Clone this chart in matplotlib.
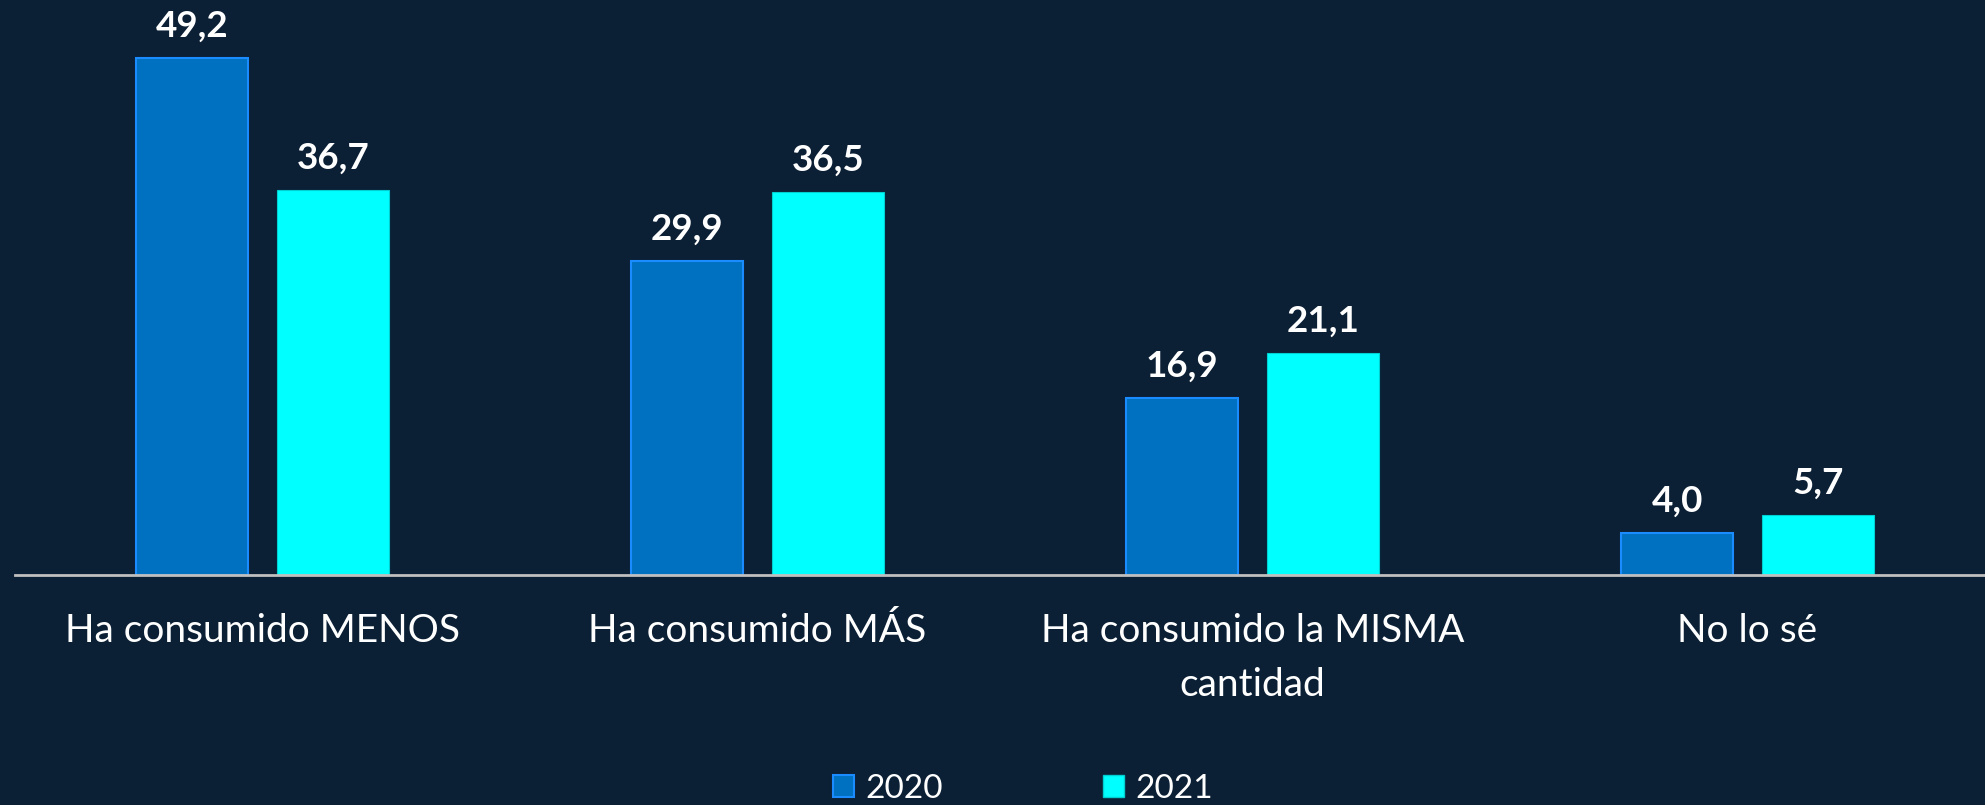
import matplotlib
matplotlib.use("Agg")
import matplotlib.pyplot as plt
import numpy as np
from matplotlib.patches import Patch

categories = ["Ha consumido MENOS", "Ha consumido MÁS", "Ha consumido la MISMA\ncantidad", "No lo sé"]
series_names = ["2020", "2021"]
values_2020 = [49.2, 29.9, 16.9, 4.0]
values_2021 = [36.7, 36.5, 21.1, 5.7]

BG = "#0B1F35"
C2020 = "#0070C0"
E2020 = "#1A8CFF"
C2021 = "#00FFFF"
E2021 = "#00D0D0"

W, H = 1985, 805
fig = plt.figure(figsize=(W/100, H/100), dpi=100, facecolor=BG)
ax = fig.add_axes([15/W, (H-575)/H, 1980/W, 575/H])
ax.set_facecolor(BG)

x = np.arange(len(categories))
bw = 0.226
off = 0.1424
b1 = ax.bar(x - off, values_2020, bw, color=C2020, edgecolor=E2020, linewidth=1.5, label=series_names[0])
b2 = ax.bar(x + off, values_2021, bw, color=C2021, edgecolor=E2021, linewidth=0.8, label=series_names[1])

fmt = lambda v: f"{v:.1f}".replace(".", ",")
for bars, vals in ((b1, values_2020), (b2, values_2021)):
    for r, v in zip(bars, vals):
        ax.annotate(fmt(v), (r.get_x() + r.get_width()/2, v), xytext=(0, 11), textcoords="offset points",
                    ha="center", va="bottom", color="white", fontsize=26.5, fontweight="bold", family="Lato")

ax.set_xlim(-0.5, 3.5)
ax.set_ylim(0, 575/10.5)
for s in ["top", "right", "left"]:
    ax.spines[s].set_visible(False)
ax.spines["bottom"].set_color("#BFBFBF")
ax.spines["bottom"].set_linewidth(2)
ax.set_yticks([])
ax.set_xticks(x)
ax.set_xticklabels(categories, fontsize=28, color="white", family="Lato", linespacing=1.65)
ax.tick_params(axis="x", length=0, pad=27)

handles = [Patch(facecolor=C2020, edgecolor=E2020, linewidth=1.5), Patch(facecolor=C2021, edgecolor=E2021)]
leg = fig.legend(handles, series_names, loc="center", bbox_to_anchor=(1023/W, 1 - 789/H), ncol=2,
                 frameon=False, prop={"family": "Lato", "size": 24},
                 handlelength=0.62, handleheight=0.62, handletextpad=0.35, columnspacing=4.8)
for t in leg.get_texts():
    t.set_color("white")

fig.savefig("out.png", dpi=100, facecolor=BG)
